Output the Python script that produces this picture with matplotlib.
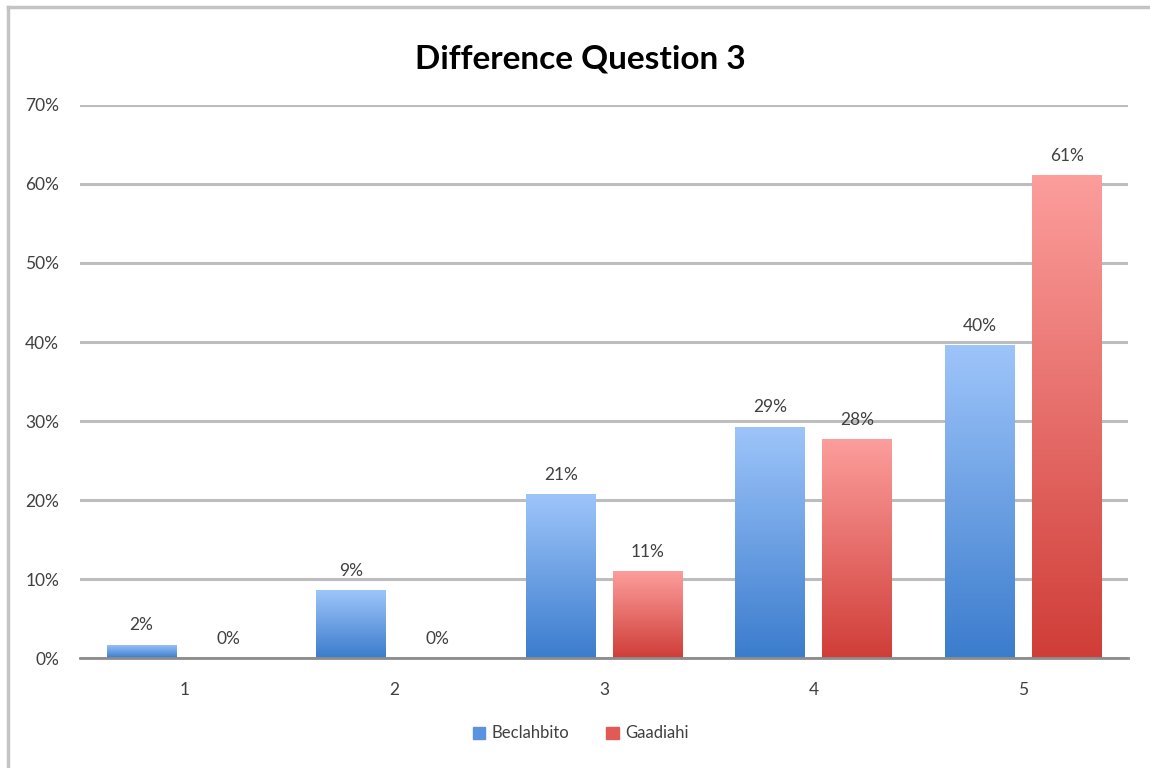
import numpy as np
import matplotlib
matplotlib.use("Agg")
import matplotlib.pyplot as plt
from matplotlib.colors import LinearSegmentedColormap
from matplotlib.lines import Line2D
from matplotlib.patches import Rectangle

categories = ["1", "2", "3", "4", "5"]
beclahbito = [1.7, 8.6, 20.7, 29.3, 39.6]
gaadiahi = [0.0, 0.0, 11.0, 27.7, 61.1]
series_names = ["Beclahbito", "Gaadiahi"]
y_ticks = [0, 10, 20, 30, 40, 50, 60, 70]

plt.rcParams["font.family"] = ["Lato", "DejaVu Sans"]
text_col = "#404040"

fig = plt.figure(figsize=(11.5, 7.68), dpi=100)
ax = fig.add_axes([0.0696, 0.1432, 0.9114, 0.7201])

x = np.arange(1, len(categories) + 1)
width = 0.333
offset = 0.207

blue_cm = LinearSegmentedColormap.from_list("b", ["#3b7ccd", "#9ec5fa"])
red_cm = LinearSegmentedColormap.from_list("r", ["#d03d38", "#fc9e9c"])


def gradient_bars(xs, vals, cmap):
    bars = ax.bar(xs, vals, width, color="none", edgecolor="none", zorder=3)
    grad = np.linspace(0, 1, 256).reshape(-1, 1)
    for b, v in zip(bars, vals):
        if v <= 0:
            continue
        x0 = b.get_x()
        # gradient runs over the full bar height, light at the top
        im = ax.imshow(grad, cmap=cmap, origin="lower", aspect="auto",
                       extent=[x0, x0 + width, 0, v], zorder=3)
        im.set_clip_path(b)
    for xi, v in zip(xs, vals):
        ax.annotate(f"{v:.0f}%", (xi, v), xytext=(0, 8), textcoords="offset points",
                    ha="center", va="bottom", fontsize=12.5, color=text_col)
    return bars


gradient_bars(x - offset, beclahbito, blue_cm)
gradient_bars(x + offset, gaadiahi, red_cm)

ax.set_xlim(0.5, 5.5)
ax.set_ylim(0, 70)
ax.set_yticks(y_ticks)
ax.set_yticklabels([f"{t}%" for t in y_ticks])
ax.set_xticks(x)
ax.set_xticklabels(categories)
ax.tick_params(axis="both", length=0, labelsize=12.5, labelcolor=text_col)
ax.tick_params(axis="y", pad=15)
ax.tick_params(axis="x", pad=17)

ax.grid(axis="y", color="#bdbdbd", linewidth=2.2, zorder=0)
ax.set_axisbelow(True)
for s in ["top", "right", "left"]:
    ax.spines[s].set_visible(False)
ax.spines["bottom"].set_color("#8c8c8c")
ax.spines["bottom"].set_linewidth(2)
ax.spines["bottom"].set_zorder(4)

fig.text(0.505, 0.923, "Difference Question 3", ha="center", va="center",
         fontsize=24, fontweight="bold", color="black")

handles = [Rectangle((0, 0), 1, 1, color="#5b93e0"),
           Rectangle((0, 0), 1, 1, color="#e05a56")]
fig.legend(handles, series_names, loc="center", bbox_to_anchor=(0.505, 0.045),
           ncol=2, frameon=False, fontsize=12, handlelength=0.75, handleheight=0.75,
           handletextpad=0.4, columnspacing=2.2, labelcolor=text_col)

# outer chart frame (top and left edges)
fig.add_artist(Line2D([0.0070, 0.0070], [0.0, 0.9915], transform=fig.transFigure,
                      color="#c4c4c4", linewidth=2.5))
fig.add_artist(Line2D([0.0070, 1.0], [0.9915, 0.9915], transform=fig.transFigure,
                      color="#c4c4c4", linewidth=2.5))

fig.savefig("out.png", dpi=100)
